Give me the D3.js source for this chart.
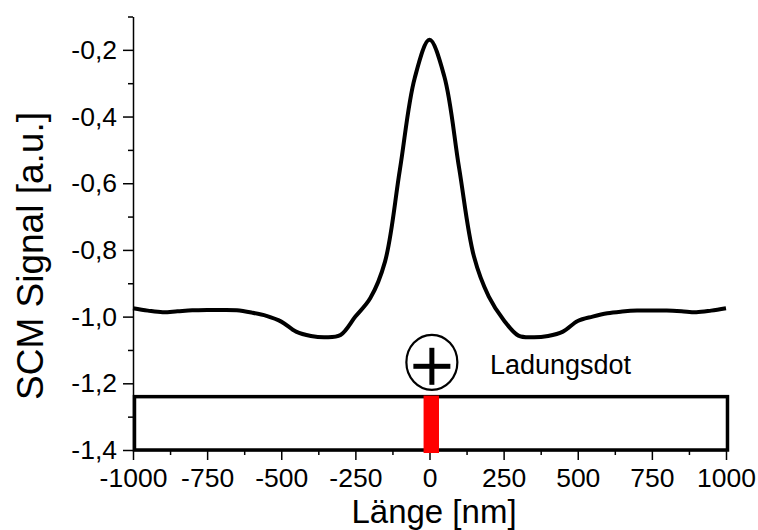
<!DOCTYPE html>
<html>
<head>
<meta charset="utf-8">
<script src="https://cdn.jsdelivr.net/npm/d3@7"></script>
<style>
	body { margin: 0; background: #fff; }
	text { font-family: "Liberation Sans", Arial, sans-serif; fill: #000; }
</style>
</head>
<body>
<svg id="chart" width="758" height="530"></svg>
<script>
"use strict";

// Länge [nm] (50 nm raster)
var laenge = [-1000,-950,-900,-850,-800,-750,-700,-650,-600,-550,-500,-450,-400,-350,-300,-250,-200,-150,-100,-50,
	0,50,100,150,200,250,300,350,400,450,500,550,600,650,700,750,800,850,900,950,1000];
// SCM Signal [a.u.]
var signal = [-0.975,-0.982,-0.987,-0.984,-0.981,-0.980,-0.980,-0.981,-0.988,-0.998,-1.015,-1.045,-1.058,-1.062,-1.055,-1.000,-0.945,-0.835,-0.560,-0.285,
	-0.170,-0.280,-0.555,-0.820,-0.940,-1.010,-1.057,-1.062,-1.058,-1.045,-1.013,-1.000,-0.990,-0.985,-0.982,-0.982,-0.982,-0.984,-0.987,-0.982,-0.975];

var x_ticks = [-1000,-750,-500,-250,0,250,500,750,1000],
	x_minor = [-875,-625,-375,-125,125,375,625,875],
	y_ticks = [-1.4,-1.2,-1.0,-0.8,-0.6,-0.4,-0.2],
	y_minor = [-1.3,-1.1,-0.9,-0.7,-0.5,-0.3,-0.1];

// probe schematic: sample box and the charged dot
var box_x = [-995, 1005], box_y = [-1.4, -1.24];
var dot_x = [-20, 32];

var svg = d3.select("#chart");

var x = d3.scaleLinear().domain([-1000, 1000]).range([133, 726]);
var y = d3.scaleLinear().domain([-1.4, -0.1]).range([450, 16.5]);

//plain hyphen, german decimal comma
var comma = function(d) { return d.toFixed(1).replace(".", ","); };

//minor ticks first
svg.append("g")
	.attr("transform", "translate(" + x(-1000) + ",0)")
	.call(d3.axisLeft(y).tickValues(y_minor).tickSize(5).tickFormat(""))
	.call(function(g) { g.select(".domain").remove(); });
svg.append("g")
	.attr("transform", "translate(0," + y(-1.4) + ")")
	.call(d3.axisBottom(x).tickValues(x_minor).tickSize(5).tickFormat(""))
	.call(function(g) { g.select(".domain").remove(); });

var yAxis = svg.append("g")
	.attr("transform", "translate(" + x(-1000) + ",0)")
	.call(d3.axisLeft(y).tickValues(y_ticks).tickSizeInner(10).tickSizeOuter(0).tickPadding(7).tickFormat(comma));

var xAxis = svg.append("g")
	.attr("transform", "translate(0," + y(-1.4) + ")")
	.call(d3.axisBottom(x).tickValues(x_ticks).tickSizeInner(10).tickSizeOuter(0).tickPadding(8).tickFormat(function(d) { return String(d); }));

svg.selectAll(".tick line").attr("stroke-width", 1.5);
svg.selectAll(".domain").attr("stroke-width", 1.5);
yAxis.selectAll("text").style("font-size", "26.5px").attr("x", -16);
xAxis.selectAll("text").style("font-size", "26.5px");

// sample box
svg.append("rect")
	.attr("x", x(box_x[0]))
	.attr("y", y(box_y[1]))
	.attr("width", x(box_x[1]) - x(box_x[0]))
	.attr("height", y(box_y[0]) - y(box_y[1]))
	.attr("fill", "none")
	.attr("stroke", "#000")
	.attr("stroke-width", 3.5);

svg.append("rect")
	.attr("x", x(dot_x[0]))
	.attr("y", y(box_y[1]) - 1)
	.attr("width", x(dot_x[1]) - x(dot_x[0]))
	.attr("height", y(box_y[0]) - y(box_y[1]) + 4)
	.attr("fill", "#ff0000");

// SCM curve
var line = d3.line()
	.x(function(d, i) { return x(laenge[i]); })
	.y(function(d) { return y(d); })
	.curve(d3.curveCatmullRom.alpha(0.5));

svg.append("path")
	.datum(signal)
	.attr("d", line)
	.attr("fill", "none")
	.attr("stroke", "#000")
	.attr("stroke-width", 4)
	.attr("stroke-linejoin", "round");

// charge symbol
var cx = x(8), cy = y(-1.137);
svg.append("ellipse")
	.attr("cx", cx).attr("cy", cy)
	.attr("rx", 25.5).attr("ry", 27.5)
	.attr("fill", "none").attr("stroke", "#000").attr("stroke-width", 2.2);
svg.append("rect")
	.attr("x", cx - 18.5).attr("y", cy + 4 - 2.5)
	.attr("width", 37).attr("height", 5).attr("fill", "#000");
svg.append("rect")
	.attr("x", cx - 2.5).attr("y", cy + 4 - 18.5)
	.attr("width", 5).attr("height", 37).attr("fill", "#000");

svg.append("text")
	.attr("x", x(204))
	.attr("y", y(-1.172))
	.style("font-size", "27px")
	.text("Ladungsdot");

// axis titles
svg.append("text")
	.attr("x", 434)
	.attr("y", 523)
	.attr("text-anchor", "middle")
	.style("font-size", "33px")
	.text("Länge [nm]");

svg.append("text")
	.attr("transform", "translate(43,256) rotate(-90)")
	.attr("text-anchor", "middle")
	.style("font-size", "37px")
	.text("SCM Signal [a.u.]");
</script>
</body>
</html>
